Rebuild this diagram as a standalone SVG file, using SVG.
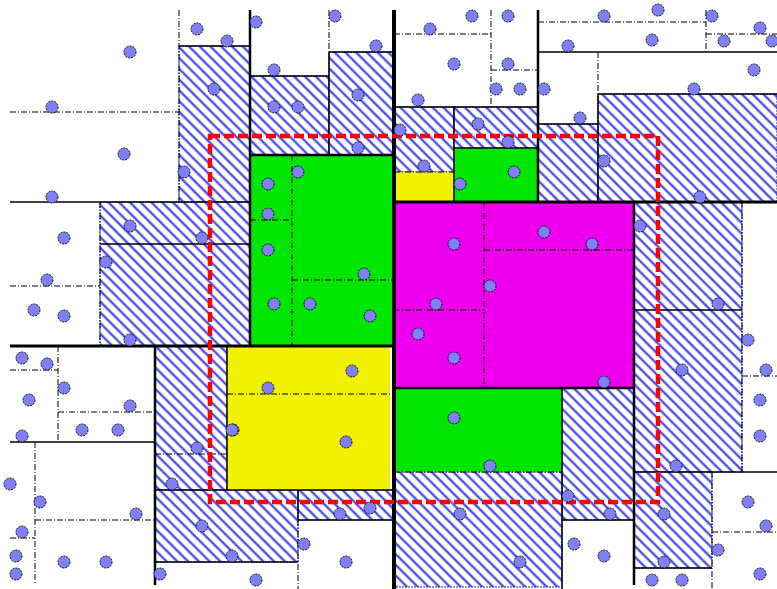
<svg xmlns="http://www.w3.org/2000/svg" width="777" height="589" viewBox="0 0 777 589">
<defs>
<pattern id="hatch" patternUnits="userSpaceOnUse" width="7.6" height="8" patternTransform="rotate(-45)">
<rect width="7.6" height="8" fill="#ffffff"/>
<line x1="2" y1="0" x2="2" y2="8" stroke="#a0a0f4" stroke-width="2.8"/>
<line x1="2" y1="0" x2="2" y2="8" stroke="#2020e0" stroke-width="1.2"/>
</pattern>
<style>
.h{fill:url(#hatch);stroke:#2020d0;stroke-width:1;stroke-dasharray:2 1}
.g{fill:#00e600}
.y{fill:#f2f200}
.m{fill:#ee00ee}
.s{stroke:#000;stroke-width:1.5;fill:none}
.d{stroke:#000;stroke-width:1;stroke-dasharray:6 2 1 2;fill:none}
.t1{stroke:#000;stroke-width:4;fill:none}
.t2{stroke:#000;stroke-width:3;fill:none}
.t3{stroke:#000;stroke-width:2.5;fill:none}
.p circle{fill:#7f7ff8;stroke:#111;stroke-width:1;stroke-dasharray:2 1;r:6}
</style>
</defs>
<rect width="777" height="589" fill="#fff"/>
<g id="regions">
<rect class="h" x="179" y="46" width="71" height="156"/>
<rect class="h" x="100" y="202" width="150" height="144"/>
<rect class="h" x="250" y="76" width="79" height="79"/>
<rect class="h" x="329" y="52" width="65" height="103"/>
<rect class="h" x="394" y="107" width="60" height="65"/>
<rect class="h" x="454" y="107" width="84" height="41"/>
<rect class="h" x="538" y="124" width="60" height="78"/>
<rect class="h" x="598" y="94" width="179" height="108"/>
<rect class="h" x="634" y="202" width="108" height="270"/>
<rect class="h" x="634" y="472" width="78" height="96"/>
<rect class="h" x="562" y="388" width="72" height="132"/>
<rect class="h" x="394" y="472" width="168" height="115"/>
<rect class="h" x="155" y="346" width="72" height="144"/>
<rect class="h" x="155" y="490" width="143" height="72"/>
<rect class="h" x="298" y="490" width="96" height="30"/>
<rect class="g" x="250" y="155" width="144" height="191"/>
<rect class="g" x="454" y="148" width="84" height="54"/>
<rect class="g" x="394" y="388" width="168" height="84"/>
<rect class="y" x="394" y="172" width="60" height="30"/>
<rect class="y" x="227" y="346" width="163" height="144"/>
<rect class="m" x="394" y="202" width="240" height="186"/>
</g>
<g id="partitions">
<path class="d" d="M179 10V202M10 112H179M100 202V346M10 286H100"/>
<path class="d" d="M329 10V52M292 155V346M250 220H292M292 280H394"/>
<path class="d" d="M394 34H491M491 10V107M491 70H538M394 172H454"/>
<path class="d" d="M538 22H706M706 10V52M706 34H777M598 52V94"/>
<path class="d" d="M484 202V388M484 250H634M394 310H484"/>
<path class="d" d="M742 202V472M742 376H777M712 472V589M712 532H777"/>
<path class="d" d="M394 472H562"/>
<path class="d" d="M58 346V442M58 412H155M10 370H58M35 442V585M35 520H155M10 538H35"/>
<path class="d" d="M227 394H394M155 454H227M298 520V589"/>
<path class="s" d="M10 202H250M179 46H250M100 244H250M250 76H329M329 52H394M329 52V155"/>
<path class="s" d="M394 107H538M454 107V202M454 148H538"/>
<path class="s" d="M538 52H777M538 124H598M598 94H777M598 94V202"/>
<path class="s" d="M634 310H742M634 472H777M634 568H712M562 388V589M562 520H634"/>
<path class="s" d="M10 442H155M155 490H394M155 562H298M298 520H394M298 490V520M227 346V490"/>
<path class="t3" d="M250 155H394M394 388H634"/>
<path class="t3" d="M250 10V346M155 346V585M538 10V202M634 202V585"/>
<path class="t2" d="M10 346H394M394 202H777"/>
<path class="t1" d="M394 10V589"/>
</g>
<g id="query">
<rect x="210" y="136" width="448" height="366" fill="none" stroke="#ff0000" stroke-width="4.5" stroke-dasharray="10 4"/>
</g>
<g id="points" class="p">
<circle cx="197" cy="29"/><circle cx="227" cy="41"/><circle cx="130" cy="52"/><circle cx="52" cy="107"/>
<circle cx="214" cy="89"/><circle cx="124" cy="154"/><circle cx="184" cy="172"/><circle cx="52" cy="197"/>
<circle cx="256" cy="22"/><circle cx="130" cy="226"/><circle cx="64" cy="238"/><circle cx="202" cy="238"/>
<circle cx="106" cy="262"/><circle cx="47" cy="280"/><circle cx="34" cy="310"/><circle cx="64" cy="316"/>
<circle cx="130" cy="340"/><circle cx="22" cy="358"/><circle cx="47" cy="364"/><circle cx="64" cy="388"/>
<circle cx="29" cy="400"/><circle cx="130" cy="406"/><circle cx="82" cy="430"/><circle cx="118" cy="430"/>
<circle cx="22" cy="436"/><circle cx="233" cy="430"/><circle cx="197" cy="448"/><circle cx="172" cy="484"/>
<circle cx="10" cy="484"/><circle cx="40" cy="502"/><circle cx="136" cy="514"/><circle cx="22" cy="532"/>
<circle cx="16" cy="556"/><circle cx="64" cy="562"/><circle cx="106" cy="562"/><circle cx="16" cy="574"/>
<circle cx="202" cy="526"/><circle cx="232" cy="556"/><circle cx="160" cy="574"/><circle cx="256" cy="580"/>
<circle cx="335" cy="16"/><circle cx="376" cy="46"/><circle cx="274" cy="70"/><circle cx="274" cy="107"/>
<circle cx="298" cy="107"/><circle cx="358" cy="95"/><circle cx="358" cy="148"/><circle cx="430" cy="29"/>
<circle cx="472" cy="16"/><circle cx="508" cy="16"/><circle cx="454" cy="64"/><circle cx="508" cy="64"/>
<circle cx="496" cy="89"/><circle cx="520" cy="89"/><circle cx="544" cy="89"/><circle cx="418" cy="100"/>
<circle cx="400" cy="130"/><circle cx="478" cy="124"/><circle cx="508" cy="142"/><circle cx="424" cy="166"/>
<circle cx="460" cy="184"/><circle cx="514" cy="172"/><circle cx="298" cy="172"/><circle cx="268" cy="184"/>
<circle cx="604" cy="16"/><circle cx="658" cy="10"/><circle cx="712" cy="16"/><circle cx="760" cy="28"/>
<circle cx="724" cy="41"/><circle cx="772" cy="41"/><circle cx="652" cy="40"/><circle cx="568" cy="46"/>
<circle cx="754" cy="70"/><circle cx="694" cy="89"/><circle cx="580" cy="118"/><circle cx="604" cy="161"/>
<circle cx="700" cy="197"/><circle cx="268" cy="214"/><circle cx="268" cy="250"/><circle cx="364" cy="274"/>
<circle cx="274" cy="304"/><circle cx="310" cy="304"/><circle cx="370" cy="316"/><circle cx="454" cy="244"/>
<circle cx="490" cy="286"/><circle cx="436" cy="304"/><circle cx="418" cy="334"/><circle cx="454" cy="358"/>
<circle cx="544" cy="232"/><circle cx="592" cy="244"/><circle cx="640" cy="226"/><circle cx="718" cy="304"/>
<circle cx="748" cy="340"/><circle cx="682" cy="370"/><circle cx="766" cy="370"/><circle cx="604" cy="382"/>
<circle cx="760" cy="400"/><circle cx="760" cy="436"/><circle cx="676" cy="466"/><circle cx="568" cy="496"/>
<circle cx="610" cy="514"/><circle cx="664" cy="514"/><circle cx="748" cy="502"/><circle cx="766" cy="526"/>
<circle cx="574" cy="544"/><circle cx="604" cy="556"/><circle cx="718" cy="550"/><circle cx="664" cy="562"/>
<circle cx="760" cy="574"/><circle cx="652" cy="580"/><circle cx="682" cy="580"/><circle cx="352" cy="371"/>
<circle cx="268" cy="388"/><circle cx="232" cy="430"/><circle cx="346" cy="442"/><circle cx="454" cy="418"/>
<circle cx="490" cy="466"/><circle cx="370" cy="508"/><circle cx="340" cy="514"/><circle cx="460" cy="514"/>
<circle cx="304" cy="544"/><circle cx="346" cy="562"/><circle cx="520" cy="562"/>
</g>
</svg>
